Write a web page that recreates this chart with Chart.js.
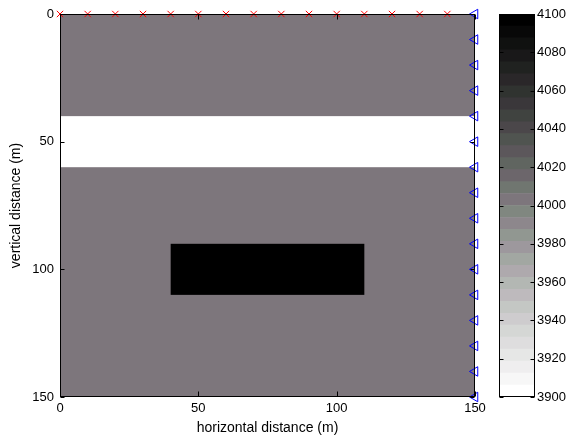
<!DOCTYPE html>
<html>
<head>
<meta charset="utf-8">
<script src="https://cdn.jsdelivr.net/npm/chart.js@4/dist/chart.umd.min.js"></script>
<style>
  html, body { margin: 0; padding: 0; background: #fff; }
  #wrap { position: relative; width: 569px; height: 443px; }
  #wrap canvas { position: absolute; left: 0; top: 0; }
</style>
</head>
<body>
<div id="wrap">
  <canvas id="model" width="569" height="443"></canvas>
  <canvas id="cbar" width="569" height="443"></canvas>
</div>
<script>
// acquisition geometry
const sourceX = [0, 10, 20, 30, 40, 50, 60, 70, 80, 90, 100, 110, 120, 130, 140];
const sourceZ = [0, 0, 0, 0, 0, 0, 0, 0, 0, 0, 0, 0, 0, 0, 0];
const receiverX = [150, 150, 150, 150, 150, 150, 150, 150, 150, 150, 150, 150, 150, 150, 150, 150];
const receiverZ = [0, 10, 20, 30, 40, 50, 60, 70, 80, 90, 100, 110, 120, 130, 140, 150];

// velocity model (m/s): background + rectangular regions
const backgroundVelocity = 4000;
const regionX0 = [0, 40];
const regionX1 = [150, 110];
const regionZ0 = [40, 90];
const regionZ1 = [60, 110];
const regionVelocity = [3900, 4100];

// axes
const xTicks = [0, 50, 100, 150];
const zTicks = [0, 50, 100, 150];
const velocityTicks = [3900, 3920, 3940, 3960, 3980, 4000, 4020, 4040, 4060, 4080, 4100];
const vMin = 3900, vMax = 4100, nColors = 32;

const FONT = { family: '"Liberation Sans", Arial, Helvetica, sans-serif', size: 13 };
const TITLE_FONT = { family: '"Liberation Sans", Arial, Helvetica, sans-serif', size: 14 };

// grey ramp, alternating pink / green tint (white at bottom, black at top)
function bandColor(i) {
  const L = 255 * (nColors - 1 - i) / (nColors - 1);
  const t = Math.min(L, 255 - L) / 128 * 5;
  let r, g, b;
  if (i % 2 === 0) { r = L + 0.3 * t; g = L - 1.1 * t; b = L + 0.1 * t; }
  else { r = L - 0.8 * t; g = L + 0.6 * t; b = L - 0.8 * t; }
  const c = v => Math.max(0, Math.min(255, Math.round(v)));
  return 'rgb(' + c(r) + ',' + c(g) + ',' + c(b) + ')';
}
function velocityColor(v) {
  let i = Math.floor((v - vMin) / (vMax - vMin) * nColors);
  i = Math.max(0, Math.min(nColors - 1, i));
  return bandColor(i);
}

const useTicks = list => function(scale) { scale.ticks = list.map(v => ({ value: v })); };
const plain = v => String(v);

// paints the velocity model under the markers
const modelPlugin = {
  id: 'model',
  beforeDatasetsDraw(chart) {
    const { ctx, chartArea: a, scales: { x, y } } = chart;
    ctx.save();
    ctx.fillStyle = velocityColor(backgroundVelocity);
    ctx.fillRect(a.left, a.top, a.right - a.left, a.bottom - a.top);
    regionVelocity.forEach(function(v, k) {
      const px0 = x.getPixelForValue(regionX0[k]), px1 = x.getPixelForValue(regionX1[k]);
      const py0 = y.getPixelForValue(regionZ0[k]), py1 = y.getPixelForValue(regionZ1[k]);
      ctx.fillStyle = velocityColor(v);
      ctx.fillRect(px0, py0, px1 - px0, py1 - py0);
    });
    ctx.restore();
  }
};

// matlab style box with inward ticks
const boxPlugin = {
  id: 'box',
  afterDatasetsDraw(chart, args, opts) {
    const { ctx, chartArea: a } = chart;
    const L = Math.round(a.left) + 0.5, R = Math.round(a.right) - 0.5;
    const T = Math.round(a.top) + 0.5, B = Math.round(a.bottom) - 0.5;
    ctx.save();
    ctx.strokeStyle = '#000';
    ctx.lineWidth = 1;
    ctx.strokeRect(L, T, R - L, B - T);
    ctx.beginPath();
    (opts.h || []).forEach(function(id) {
      chart.scales[id].ticks.forEach(function(t) {
        const p = Math.round(chart.scales[id].getPixelForValue(t.value)) + 0.5;
        ctx.moveTo(p, B); ctx.lineTo(p, B - 5);
        ctx.moveTo(p, T); ctx.lineTo(p, T + 5);
      });
    });
    (opts.v || []).forEach(function(id) {
      chart.scales[id].ticks.forEach(function(t) {
        const p = Math.round(chart.scales[id].getPixelForValue(t.value)) + 0.5;
        ctx.moveTo(L, p); ctx.lineTo(L + 4, p);
        ctx.moveTo(R, p); ctx.lineTo(R - 4, p);
      });
    });
    ctx.stroke();
    ctx.restore();
  }
};

new Chart(document.getElementById('model').getContext('2d'), {
  type: 'scatter',
  data: {
    datasets: [{
      label: 'sources',
      data: sourceX.map((x, i) => ({ x: x, y: sourceZ[i] })),
      pointStyle: 'crossRot',
      pointRadius: 4.5,
      borderColor: '#ff0000',
      borderWidth: 1,
      clip: false
    }, {
      label: 'receivers',
      data: receiverX.map((x, i) => ({ x: x, y: receiverZ[i] })),
      pointStyle: 'triangle',
      rotation: 270,
      pointRadius: 5.5,
      borderColor: '#0000ff',
      backgroundColor: 'rgba(0,0,0,0)',
      borderWidth: 1,
      clip: false
    }]
  },
  options: {
    responsive: false,
    animation: false,
    events: [],
    layout: { padding: { top: 14, right: 94, left: 0, bottom: 0 } },
    plugins: {
      legend: { display: false },
      tooltip: { enabled: false },
      box: { h: ['x'], v: ['y'] }
    },
    scales: {
      x: {
        type: 'linear', min: 0, max: 150,
        afterBuildTicks: useTicks(xTicks),
        afterFit(s) { s.height = 46; },
        grid: { display: false, drawTicks: false },
        border: { display: false },
        ticks: { color: '#000', font: FONT, padding: 4, maxRotation: 0, callback: plain },
        title: { display: true, text: 'horizontal distance (m)', color: '#000', font: TITLE_FONT, padding: { top: 0, bottom: 6 } }
      },
      y: {
        type: 'linear', min: 0, max: 150, reverse: true,
        afterBuildTicks: useTicks(zTicks),
        afterFit(s) { s.width = 60; },
        grid: { display: false, drawTicks: false },
        border: { display: false },
        ticks: { color: '#000', font: FONT, padding: 6, callback: plain },
        title: { display: true, text: 'vertical distance (m)', color: '#000', font: TITLE_FONT, padding: { top: 8, bottom: 0 } }
      }
    }
  },
  plugins: [modelPlugin, boxPlugin]
});

// colour bar: one floating bar per colour band
const bands = [];
for (let i = 0; i < nColors; i++) {
  const lo = vMin + (vMax - vMin) * i / nColors;
  const hi = vMin + (vMax - vMin) * (i + 1) / nColors;
  bands.push({
    data: [[lo, hi]],
    backgroundColor: bandColor(i),
    borderWidth: 0,
    barPercentage: 1,
    categoryPercentage: 1,
    grouped: false
  });
}

new Chart(document.getElementById('cbar').getContext('2d'), {
  type: 'bar',
  data: { labels: ['v'], datasets: bands },
  options: {
    responsive: false,
    animation: false,
    events: [],
    layout: { padding: { top: 14, right: 0, left: 499, bottom: 46 } },
    plugins: {
      legend: { display: false },
      tooltip: { enabled: false },
      box: { v: ['y'] }
    },
    scales: {
      x: { display: false },
      y: {
        type: 'linear', position: 'right', min: vMin, max: vMax,
        afterBuildTicks: useTicks(velocityTicks),
        afterFit(s) { s.width = 34; },
        grid: { display: false, drawTicks: false },
        border: { display: false },
        ticks: { color: '#000', font: FONT, padding: 2, callback: plain }
      }
    }
  },
  plugins: [boxPlugin]
});
</script>
</body>
</html>
